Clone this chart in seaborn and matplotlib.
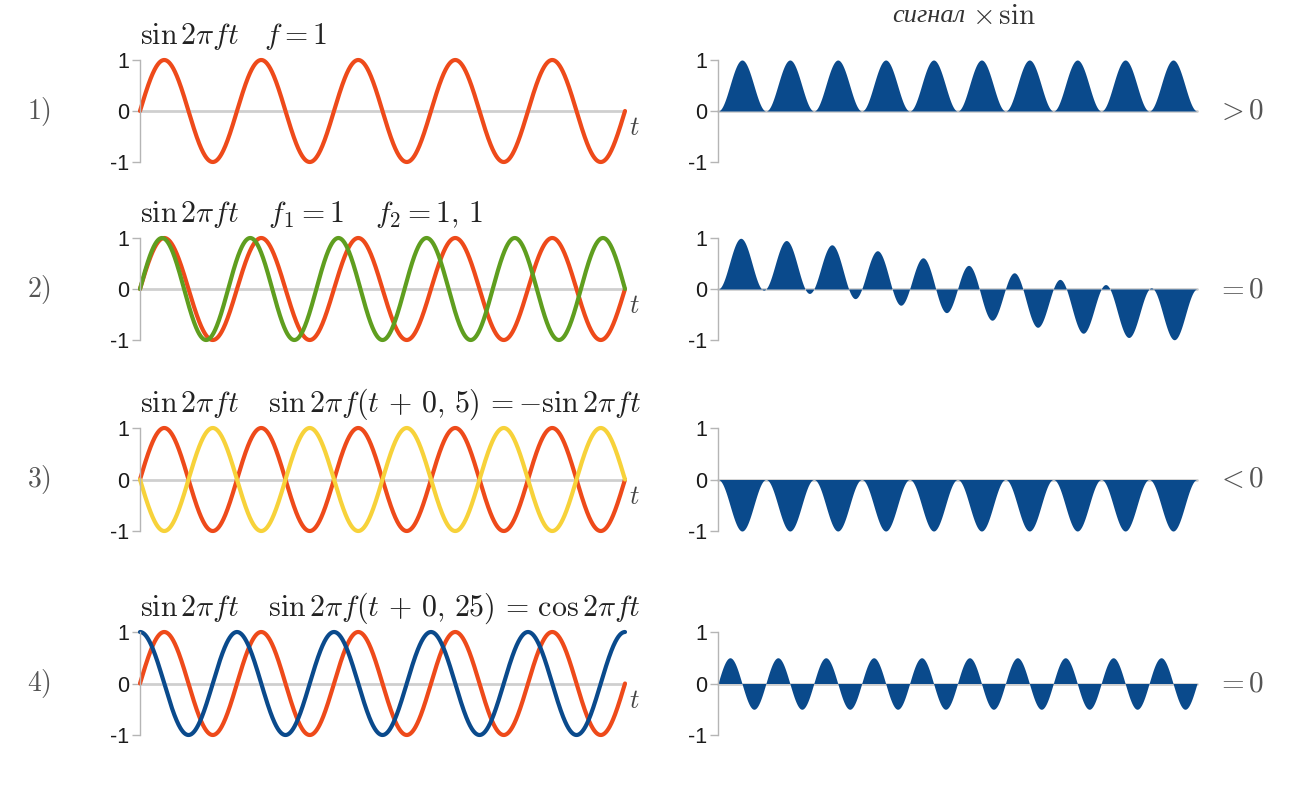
import numpy as np
import pandas as pd
import matplotlib
matplotlib.use('Agg')
import matplotlib.pyplot as plt
import seaborn as sns

# Параметры сигналов (из подписей на рисунке)
T_MAX = 5.0
REF_FREQ = 1.0                      # опорная синусоида sin 2*pi*f*t
ROW_FREQS = [1.0, 1.1, 1.0, 1.0]    # частота второго сигнала
ROW_SHIFTS = [0.0, 0.0, 0.5, 0.25]  # сдвиг второго сигнала по t
ROW_COLORS = [None, '#5f9e1f', '#f7d23a', '#0a4a8c']
ROW_LABELS = [r'$1)$', r'$2)$', r'$3)$', r'$4)$']
ROW_TITLES = [r'$\sin 2\pi ft\ \ \ f = 1$',
              r'$\sin 2\pi ft \quad\, f_1 = 1 \quad\, f_2 = 1,\,1$',
              r'$\sin 2\pi ft \quad\, \sin 2\pi f(t\,+\,0,\,5)\,=-\sin 2\pi ft$',
              r'$\sin 2\pi ft \quad\, \sin 2\pi f(t\,+\,0,\,25)\,=\,\cos 2\pi ft$']
RESULTS = [r'$> 0$', r'$= 0$', r'$< 0$', r'$= 0$']
Y_TICKS = [-1, 0, 1]
Y_TICKLABELS = ['-1', '0', '1']

RED = '#ee4a1a'
FILL_BLUE = '#0a4a8c'

sns.set_theme(style='white')
plt.rcParams['font.family'] = ['Liberation Sans', 'DejaVu Sans']
plt.rcParams['mathtext.fontset'] = 'cm'

W, H = 1296, 799
fig = plt.figure(figsize=(W / 100, H / 100), dpi=100)

# пиксельные позиции осей: (верх "1", низ "-1")
rows_px = [(60, 162), (238, 340), (428, 531), (632, 735)]
left_px = (140, 625)
right_px = (718, 1197)


def make_ax(x0, x1, y_top, y_bot):
    ax = fig.add_axes([x0 / W, 1 - y_bot / H, (x1 - x0) / W, (y_bot - y_top) / H])
    ax.set_xlim(0, T_MAX)
    ax.set_ylim(-1, 1)
    for s in ['top', 'right', 'bottom']:
        ax.spines[s].set_visible(False)
    ax.spines['left'].set_color('#b5b5b5')
    ax.spines['left'].set_linewidth(1.0)
    ax.set_xticks([])
    ax.set_yticks(Y_TICKS)
    ax.set_yticklabels(Y_TICKLABELS, fontsize=15.5, color='#1a1a1a')
    ax.tick_params(axis='y', left=True, length=6, width=1.0, color='#b5b5b5', pad=2)
    ax.axhline(0, color='#cfcfcf', lw=2, zorder=0, clip_on=False)
    ax.patch.set_alpha(0)
    return ax


t = np.linspace(0, T_MAX, 2000)
ref = np.sin(2 * np.pi * REF_FREQ * t)

for i in range(4):
    y_top, y_bot = rows_px[i]
    sig = np.sin(2 * np.pi * ROW_FREQS[i] * (t + ROW_SHIFTS[i]))
    df = pd.DataFrame({'t': t, 'ref': ref, 'sig': sig, 'prod': ref * sig})

    # левая колонка: сигналы
    axl = make_ax(left_px[0], left_px[1], y_top, y_bot)
    sns.lineplot(data=df, x='t', y='ref', ax=axl, color=RED, lw=3, clip_on=False)
    if ROW_COLORS[i] is not None:
        sns.lineplot(data=df, x='t', y='sig', ax=axl, color=ROW_COLORS[i], lw=3, clip_on=False)
    axl.set_xlabel('')
    axl.set_ylabel('')
    axl.text(0.0, 1.23, ROW_TITLES[i], transform=axl.transAxes, fontsize=21.5,
             ha='left', va='center', color='#222222')
    axl.text(1.02, 0.33, r'$t$', transform=axl.transAxes, fontsize=19,
             ha='center', va='center', color='#444444')
    fig.text(39 / W, 1 - ((y_top + y_bot) / 2) / H, ROW_LABELS[i],
             fontsize=20, color='#555555', ha='center', va='center')

    # правая колонка: произведение
    axr = make_ax(right_px[0], right_px[1], y_top, y_bot)
    axr.fill_between(df['t'], 0, df['prod'], color=FILL_BLUE, lw=0)
    axr.text(1.09, 0.5, RESULTS[i], transform=axr.transAxes, fontsize=21,
             ha='center', va='center', color='#555555')

fig.text(965 / W, 1 - 16 / H, 'сигнал', fontsize=19, family=['Liberation Serif'],
         style='italic', ha='right', va='center', color='#333333')
fig.text(972 / W, 1 - 16 / H, r'$\times\,\sin$', fontsize=21,
         ha='left', va='center', color='#333333')

fig.savefig('out.png', dpi=100, facecolor='white')
